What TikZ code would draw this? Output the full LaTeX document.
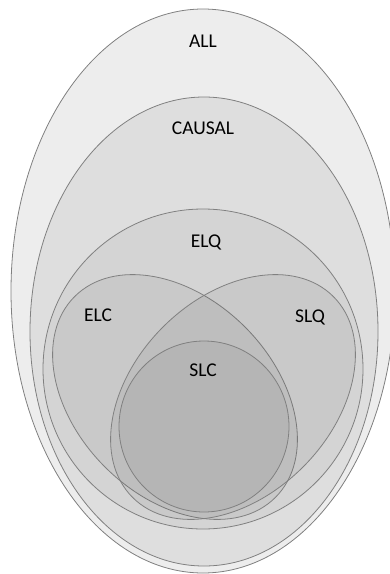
\documentclass[tikz,border=0pt]{standalone}
\usepackage{fontspec}
\setmainfont{Carlito}
\usetikzlibrary{shapes.geometric}
\tikzset{set/.style = {ellipse, draw=black!50, line width=0.8pt, inner sep=0pt}}
\tikzset{inner/.style = {set, fill=black, fill opacity=0.05}}
\tikzset{setname/.style = {font=\fontsize{19.5}{23}\selectfont, text=black}}

\begin{document}
\begin{tikzpicture}[x=1pt, y=-1pt]
\useasboundingbox (0,0) rectangle (390,574);
\node [set, fill=black!7, minimum width=384pt, minimum height=564pt] (ALL) at (203,291) {};
\node [set, fill=black!13, minimum width=348pt, minimum height=469pt] (CAUSAL) at (204,331.5) {};
\node [set, fill=black!17, minimum width=320pt, minimum height=320pt] (ELQ) at (203,369) {};
\node [inner, rotate=-45, minimum width=284pt, minimum height=198pt] (ELC) at (175,397) {};
\node [inner, rotate=45, minimum width=284pt, minimum height=198pt] (SLQ) at (233,397) {};
\node [inner, fill opacity=0.045, minimum width=170pt, minimum height=171pt] (SLC) at (204,426.5) {};
% names of the sets
\node [setname] (tALL) at (203,41) {ALL};
\node [setname] (tCAUSAL) at (203,128.5) {CAUSAL};
\node [setname] (tELQ) at (206,242) {ELQ};
\node [setname] (tELC) at (98,315.5) {ELC};
\node [setname] (tSLQ) at (310,317) {SLQ};
\node [setname] (tSLC) at (203,370.5) {SLC};
\end{tikzpicture}
\end{document}
